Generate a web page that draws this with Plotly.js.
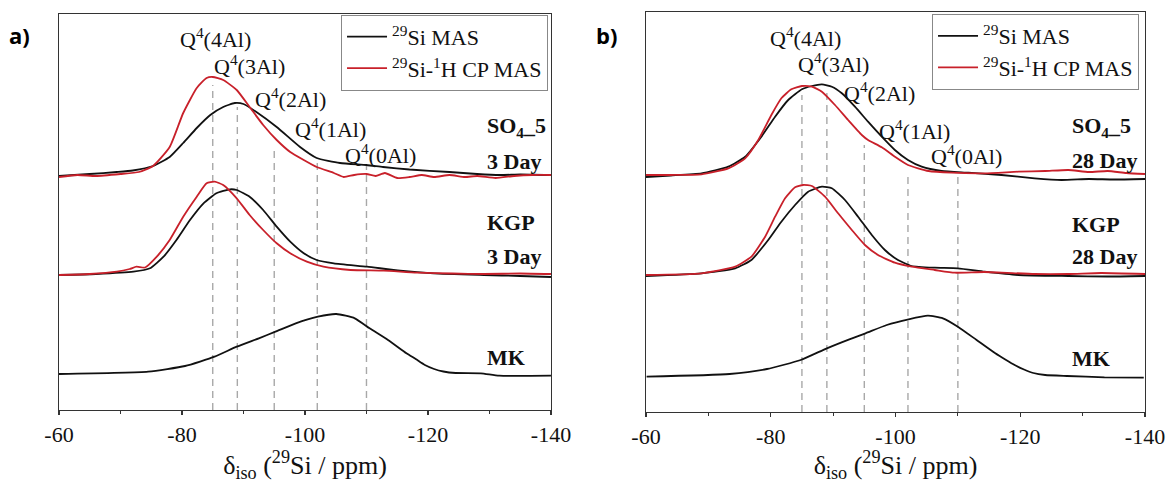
<!DOCTYPE html>
<html><head><meta charset="utf-8">
<script src="https://cdn.plot.ly/plotly-3.0.1.min.js"></script>
<style>html,body{margin:0;padding:0;background:#fff}#chart{width:1167px;height:483px}</style>
</head><body><div id="chart"></div>
<script>
// ---------- DATA (chemical shift in ppm, intensity in arbitrary units incl. stacking offset) ----------
// Panel a) 3 days
const a_SO4_MAS_x = [-60,-65,-69.4,-72,-75.3,-78,-80.2,-82.4,-84.6,-86.7,-88.6,-90,-92.1,-95.4,-99.2,-101.9,-105.7,-110,-112.7,-117,-123.5,-128,-131.7,-135,-140];
const a_SO4_MAS_y = [234,236,238,239.5,244,253,267,282,295,303,307,306,298,283,263,252,247,245,243,240.5,238,236,235,235.5,235];
const a_SO4_CP_x = [-60,-63,-66,-70,-73,-75.3,-78,-80.2,-82.4,-84,-85,-86.7,-88.9,-91,-93.2,-95.4,-97.6,-99.8,-101.9,-104.7,-106.3,-108,-110,-111.5,-113,-115,-117,-119,-121,-123.5,-126,-128,-131,-134,-137,-140];
const a_SO4_CP_y = [233,235,234,236,238,244,263,297,322,332,333,330,320,303,285,270,258,250,243,237,233,235,236,234,237,232,233,235,233,235,233,234,232,234,235,235];
const a_KGP_MAS_x = [-60,-66,-72.1,-74.8,-77,-79.1,-81.3,-83.5,-85.6,-87.8,-88.9,-91,-93.2,-95.4,-97.6,-99.8,-101.9,-104.7,-110.1,-115.5,-120.9,-129.1,-135,-140];
const a_KGP_MAS_y = [135,136,138.3,141.7,153.3,170,190,206.7,216.7,220.7,220,213.3,200,183.3,168.3,156.7,150,146.7,143.3,139.3,136.7,135,134,133];
const a_KGP_CP_x = [-60,-65,-69.4,-71.5,-72.6,-74,-75.9,-78,-80.2,-82.4,-84,-85.3,-86.7,-88.9,-91,-93.2,-95.4,-97.6,-100.3,-103,-107.4,-112.8,-118.2,-124,-129.1,-135,-140];
const a_KGP_CP_y = [135,136,138.3,141,143.3,142.5,153.3,170,193.3,213.3,226.7,228.3,225,211.7,195,180,166.7,156.7,148.3,143.3,140,139.3,137.3,136.5,136,136.5,136];
const a_MK_x = [-60,-74.5,-80.5,-85.3,-88.9,-92.5,-95.2,-98.5,-102.1,-105.1,-108.1,-110.5,-113.5,-116.5,-118,-119.5,-121,-122.5,-124.5,-128.6,-131.6,-140];
const a_MK_y = [36,38.3,44,53.3,63.3,71.7,78.3,86.7,93.3,96,91.7,81.7,70,56.7,51,45,41,38.5,37,36.7,34.3,34.3];

// Panel b) 28 days
const b_SO4_MAS_x = [-60,-64,-68.9,-73.2,-75.9,-78.5,-80.7,-82.8,-85,-86.6,-88.2,-89.8,-91.4,-93.5,-95.6,-97.8,-99.9,-102,-104.2,-107.4,-111.7,-117,-122.3,-126.6,-131,-135,-140];
const b_SO4_MAS_y = [235,236.5,238.7,245.3,255.3,275.3,295.3,312,322.7,326,327.7,325.3,318.7,305.3,290.3,275.3,262,252,245.3,241,239.3,237,233.7,232,233,232.5,233];
const b_SO4_CP_x = [-60,-64,-68.9,-73.2,-75.9,-78,-80.1,-81.7,-83.3,-85,-86.6,-88.2,-90.3,-92.4,-94.6,-95.6,-97.8,-99.9,-102,-105.3,-109,-114.3,-119.7,-124,-127.7,-131,-134,-137,-140];
const b_SO4_CP_y = [237,237,237.7,243.7,253.7,272,297,313.7,322.7,326,325.3,320.3,307,292,277,272,264.7,255.3,247,241,239.3,238.7,240.3,241,242,240,241,239,238];
const b_KGP_MAS_x = [-60,-68.9,-74.3,-76.9,-79.6,-81.7,-83.9,-86,-88.2,-89.8,-91.9,-94,-96.2,-98.3,-100.4,-102.6,-106.3,-110,-114.3,-119.7,-127.7,-134,-140];
const b_KGP_MAS_y = [136,138.7,143.7,152,172,190.3,207,220.3,225.3,223.7,212,195.3,177,162,152,146,144.3,143.7,140.3,137,136,135.5,136];
const b_KGP_CP_x = [-60,-68.9,-74.3,-76.9,-79.1,-80.7,-82.3,-83.9,-85.2,-86.6,-88.7,-90.8,-93,-95.1,-97.2,-99.9,-102.6,-106.3,-109.5,-114.3,-122.3,-127.7,-133,-140];
const b_KGP_CP_y = [137,138.7,145.3,155.3,175.3,195.3,213.7,224.7,227,226,215.3,198.7,182,167,157,149.3,145.3,142,139.3,140,138,138,139,138];
const b_MK_x = [-60.1,-73.4,-79.4,-84.8,-89,-92.6,-95.2,-98.6,-102.1,-105.2,-107.6,-110,-113,-116,-117.6,-119.1,-120.6,-122.1,-124,-127.5,-133.5,-139.8];
const b_MK_y = [35.3,38,43,52,63.7,72.7,78.7,87,92.7,96.3,93.7,85.3,72,58.7,52.5,47,42.5,39,37,36,34.7,34.3];

// Q4(nAl) reference positions and labels
const qPositions = [-85,-89,-95,-102,-110];
const qLabels = ['Q<sup>4</sup>(4Al)','Q<sup>4</sup>(3Al)','Q<sup>4</sup>(2Al)','Q<sup>4</sup>(1Al)','Q<sup>4</sup>(0Al)'];
const seriesNames = ['<sup>29</sup>Si MAS','<sup>29</sup>Si-<sup>1</sup>H CP MAS'];
const tickVals = [-60,-80,-100,-120,-140];
const tickLabels = ['-60','-80','-100','-120','-140'];
const minorTickVals = [-70,-90,-110,-130];
const sampleLabelsA = ['<b>SO<sub>4</sub>_5</b>','<b>3 Day</b>','<b>KGP</b>','<b>3 Day</b>','<b>MK</b>'];
const sampleLabelsB = ['<b>SO<sub>4</sub>_5</b>','<b>28 Day</b>','<b>KGP</b>','<b>28 Day</b>','<b>MK</b>'];

// ---------- STYLE / POSITIONS ----------
const BLACK = '#111111', RED = '#c8202a';
const SERIF = 'Liberation Serif';
const qLabelPosA = {x:[-85.4,-90.9,-97.6,-104.1,-112.2], y:[372,345,312,282,256]};
const qLabelPosB = {x:[-85.5,-90.1,-97.5,-103.1,-111.4], y:[375,349,320,282,257]};
const qLineTopA = [325,303,262,250,245];
const qLineTopB = [317,322,267,240,239];
const sampleLabelYA = [283,249,188,154,53];
const sampleLabelYB = [285,252,188,156,54];

function tr(x, y, color, name, xa, ya, show, legend) {
  return {x: x, y: y, type: 'scatter', mode: 'lines', name: name,
    line: {color: color, width: 1.8, shape: 'spline', smoothing: 0.5},
    xaxis: xa, yaxis: ya, showlegend: show, legend: legend, hoverinfo: 'skip'};
}

const traces = [
  tr(a_SO4_MAS_x, a_SO4_MAS_y, BLACK, seriesNames[0], 'x', 'y', true, 'legend'),
  tr(a_SO4_CP_x, a_SO4_CP_y, RED, seriesNames[1], 'x', 'y', true, 'legend'),
  tr(a_KGP_MAS_x, a_KGP_MAS_y, BLACK, seriesNames[0], 'x', 'y', false, 'legend'),
  tr(a_KGP_CP_x, a_KGP_CP_y, RED, seriesNames[1], 'x', 'y', false, 'legend'),
  tr(a_MK_x, a_MK_y, BLACK, seriesNames[0], 'x', 'y', false, 'legend'),
  tr(b_SO4_MAS_x, b_SO4_MAS_y, BLACK, seriesNames[0], 'x2', 'y2', true, 'legend2'),
  tr(b_SO4_CP_x, b_SO4_CP_y, RED, seriesNames[1], 'x2', 'y2', true, 'legend2'),
  tr(b_KGP_MAS_x, b_KGP_MAS_y, BLACK, seriesNames[0], 'x2', 'y2', false, 'legend2'),
  tr(b_KGP_CP_x, b_KGP_CP_y, RED, seriesNames[1], 'x2', 'y2', false, 'legend2'),
  tr(b_MK_x, b_MK_y, BLACK, seriesNames[0], 'x2', 'y2', false, 'legend2')
];

const shapes = [];
const annotations = [];
[['x','y',qLineTopA,qLabelPosA,sampleLabelsA,sampleLabelYA,-129.3],
 ['x2','y2',qLineTopB,qLabelPosB,sampleLabelsB,sampleLabelYB,-127.9]].forEach(function(p){
  qPositions.forEach(function(q, i){
    shapes.push({type:'line', xref:p[0], yref:p[1], x0:q, x1:q, y0:0, y1:p[2][i], layer:'below',
      line:{color:'#a8a8a8', width:1.4, dash:'7px,5px'}});
    annotations.push({xref:p[0], yref:p[1], x:p[3].x[i], y:p[3].y[i], text:qLabels[i], showarrow:false,
      font:{family:SERIF, size:22, color:'#111'}, xanchor:'center', yanchor:'middle'});
  });
  p[4].forEach(function(t, i){
    annotations.push({xref:p[0], yref:p[1], x:p[6], y:p[5][i], text:t, showarrow:false,
      font:{family:SERIF, size:22, color:'#111'}, xanchor:'left', yanchor:'middle'});
  });
});
annotations.push({xref:'paper', yref:'paper', x:-0.0368, y:0.9425, text:'<b>a)</b>', showarrow:false,
  font:{family:'Open Sans', size:22, color:'#000'}, xanchor:'center', yanchor:'middle'});
annotations.push({xref:'paper', yref:'paper', x:0.5046, y:0.9425, text:'<b>b)</b>', showarrow:false,
  font:{family:'Open Sans', size:22, color:'#000'}, xanchor:'center', yanchor:'middle'});

function xax(domain, anchor) {
  return {domain: domain, anchor: anchor, range: [-60, -140], autorange: false,
    showline: true, linecolor: '#333', linewidth: 1.3, mirror: true,
    ticks: 'outside', ticklen: 4, tickwidth: 1.2, tickcolor: '#333',
    tickmode: 'array', tickvals: tickVals, ticktext: tickLabels,
    minor: {tickmode: 'array', tickvals: minorTickVals, ticks: 'outside', ticklen: 3, tickwidth: 1.1, tickcolor: '#333', showgrid: false},
    showgrid: false, zeroline: false,
    tickfont: {family: SERIF, size: 22, color: '#111'},
    title: {text: 'δ<sub>iso</sub> (<sup>29</sup>Si / ppm)', font: {family: SERIF, size: 26, color: '#111'}, standoff: 7}};
}
function yax(domain, anchor, top) {
  return {domain: domain, anchor: anchor, range: [0, top], autorange: false,
    showline: true, linecolor: '#333', linewidth: 1.3, mirror: true,
    ticks: '', showticklabels: false, showgrid: false, zeroline: false};
}
const legendStyle = function(x, y) {
  return {x: x, y: y, xanchor: 'right', yanchor: 'top', xref: 'paper', yref: 'paper',
    bgcolor: '#fff', bordercolor: '#888', borderwidth: 1,
    font: {family: SERIF, size: 22, color: '#111'}, itemwidth: 40, tracegroupgap: 0};
};

const layout = {
  width: 1167, height: 483,
  margin: {l: 59, r: 22, t: 12, b: 71},
  paper_bgcolor: '#fff', plot_bgcolor: '#fff',
  font: {family: SERIF, color: '#111'},
  xaxis: xax([0, 0.4530], 'y'),
  yaxis: yax([0.005, 0.995], 'x', 396),
  xaxis2: xax([0.5405, 1], 'y2'),
  yaxis2: yax([0, 1], 'x2', 400),
  legend: legendStyle(0.4503, 0.993),
  legend2: legendStyle(0.9945, 0.995),
  shapes: shapes,
  annotations: annotations
};

Plotly.newPlot('chart', traces, layout, {displayModeBar: false, staticPlot: true});
</script>
</body></html>
